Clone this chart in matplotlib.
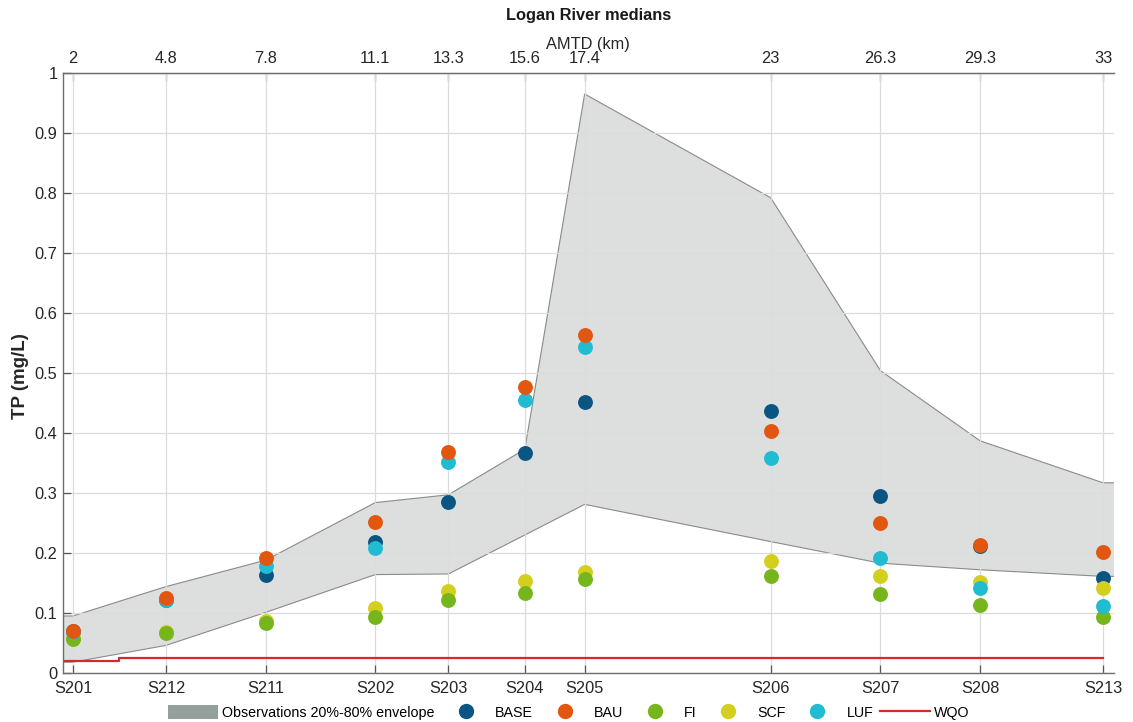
import numpy as np
import matplotlib
matplotlib.use("Agg")
from matplotlib import pyplot as plt
from matplotlib.patches import Patch
from matplotlib.lines import Line2D

plt.rcParams['font.family'] = ['Liberation Sans', 'DejaVu Sans']

# stations along the river
stations = ["S201", "S212", "S211", "S202", "S203", "S204", "S205", "S206", "S207", "S208", "S213"]
amtd = [2, 4.8, 7.8, 11.1, 13.3, 15.6, 17.4, 23, 26.3, 29.3, 33]
amtd_labels = ["2", "4.8", "7.8", "11.1", "13.3", "15.6", "17.4", "23", "26.3", "29.3", "33"]

# observed 20%-80% envelope
env_lo = [0.018, 0.046, 0.101, 0.164, 0.165, 0.23, 0.281, 0.219, 0.183, 0.172, 0.161]
env_hi = [0.095, 0.144, 0.188, 0.284, 0.297, 0.373, 0.965, 0.792, 0.504, 0.387, 0.317]

# scenario medians TP (mg/L)
base = [0.070, 0.121, 0.163, 0.218, 0.285, 0.367, 0.452, 0.437, 0.295, 0.212, 0.159]
bau = [0.070, 0.125, 0.192, 0.252, 0.369, 0.476, 0.563, 0.404, 0.250, 0.213, 0.201]
fi = [0.056, 0.066, 0.084, 0.093, 0.121, 0.134, 0.156, 0.161, 0.132, 0.113, 0.093]
scf = [0.058, 0.068, 0.087, 0.109, 0.137, 0.154, 0.169, 0.186, 0.162, 0.151, 0.141]
luf = [0.068, 0.122, 0.178, 0.209, 0.352, 0.455, 0.544, 0.358, 0.191, 0.142, 0.112]

# water quality objective (step)
wqo_km = [1.7, 3.4, 33]
wqo_val = [0.02, 0.025, 0.025]

xmin, xmax = 1.7, 33.33

c_base = '#0b5583'
c_bau = '#e2570f'
c_fi = '#77b51d'
c_scf = '#d3cf1c'
c_luf = '#22bcd2'
c_wqo = '#d42a2a'
c_env = '#95a09c'

fig = plt.figure(figsize=(11.33, 7.22), dpi=100)
ax = fig.add_axes([0.0556, 0.0679, 0.9276, 0.831])

xe = [xmin] + amtd + [xmax]
lo = [env_lo[0]] + env_lo + [env_lo[-1]]
hi = [env_hi[0]] + env_hi + [env_hi[-1]]
ax.fill_between(xe, lo, hi, facecolor=c_env, alpha=0.33, edgecolor='none', zorder=1)
ax.plot(xe, lo, color='#8a8a8a', lw=0.8, zorder=1.2)
ax.plot(xe, hi, color='#8a8a8a', lw=0.8, zorder=1.2)

ax.plot(wqo_km, wqo_val, drawstyle='steps-post', color=c_wqo, lw=1.6, zorder=2)

ms = 115
ax.scatter(amtd, base, s=ms, color=c_base, lw=0, zorder=3.0)
ax.scatter(amtd, scf, s=ms, color=c_scf, lw=0, zorder=3.1)
ax.scatter(amtd, fi, s=ms, color=c_fi, lw=0, zorder=3.2)
ax.scatter(amtd, luf, s=ms, color=c_luf, lw=0, zorder=3.3)
ax.scatter(amtd, bau, s=ms, color=c_bau, lw=0, zorder=3.4)

ax.set_xlim(xmin, xmax)
ax.set_ylim(0, 1)
ax.set_xticks(amtd)
ax.set_xticklabels(stations)
ax.set_yticks(np.arange(0, 1.01, 0.1))
ax.set_yticklabels(["0", "0.1", "0.2", "0.3", "0.4", "0.5", "0.6", "0.7", "0.8", "0.9", "1"])
ax.grid(True, color='#dcdcdc', lw=0.9)
ax.set_axisbelow('line')
ax.tick_params(direction='in', length=6, width=0.9, colors='#555555', labelcolor='#262626',
               labelsize=11.8)
ax.tick_params(axis='x', pad=6)
ax.tick_params(axis='y', pad=4)
for side in ['left', 'bottom', 'top']:
    ax.spines[side].set_color('#6e6e6e')
    ax.spines[side].set_linewidth(1.0)
ax.spines['right'].set_visible(False)

top = ax.secondary_xaxis('top')
top.set_xticks(amtd)
top.set_xticklabels(amtd_labels)
top.tick_params(direction='in', length=6, width=0.9, colors='#555555', labelcolor='#262626',
                labelsize=11.8, pad=5)
top.spines['top'].set_color('#6e6e6e')

fig.text(0.519, 0.939, 'AMTD (km)', ha='center', va='center', fontsize=11.8, color='#262626')
fig.text(0.0177, 0.479, 'TP (mg/L)', ha='center', va='center', rotation=90, fontsize=13.5,
         fontweight='bold', color='#262626')
fig.text(0.5194, 0.978, 'Logan River medians', ha='center', va='center', fontsize=11.8,
         fontweight='bold', color='#1a1a1a')

handles = [
    Patch(facecolor=c_env, edgecolor='none'),
    Line2D([], [], ls='none', marker='o', ms=10, color=c_base),
    Line2D([], [], ls='none', marker='o', ms=10, color=c_bau),
    Line2D([], [], ls='none', marker='o', ms=10, color=c_fi),
    Line2D([], [], ls='none', marker='o', ms=10, color=c_scf),
    Line2D([], [], ls='none', marker='o', ms=10, color=c_luf),
    Line2D([], [], color=c_wqo, lw=1.6),
]
labels = ['Observations 20%-80% envelope', 'BASE', 'BAU', 'FI', 'SCF', 'LUF', 'WQO']
fig.legend(handles, labels, loc='center', bbox_to_anchor=(0.502, 0.0135), ncol=7, frameon=False,
           fontsize=10.3, handlelength=3.5, handleheight=1.1, handletextpad=0.3,
           columnspacing=0.45, borderpad=0)

fig.savefig('out.png', dpi=100)
